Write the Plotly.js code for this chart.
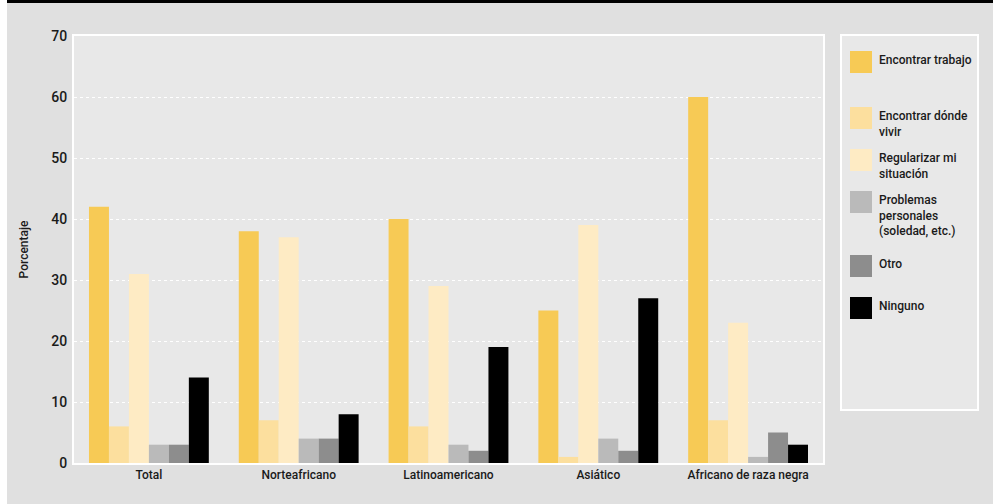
<!DOCTYPE html>
<html>
<head>
<meta charset="utf-8">
<script src="https://cdn.plot.ly/plotly-3.0.1.min.js"></script>
<style>html,body{margin:0;padding:0;background:#e0e0e0;}#chart{width:993px;height:504px;}</style>
</head>
<body>
<div id="chart"></div>
<script>
const categories = ["Total", "Norteafricano", "Latinoamericano", "Asiático", "Africano de raza negra"];
const seriesNames = ["Encontrar trabajo", "Encontrar dónde vivir", "Regularizar mi situación", "Problemas personales (soledad, etc.)", "Otro", "Ninguno"];
const legendLabels = ["Encontrar trabajo", "Encontrar dónde<br>vivir", "Regularizar mi<br>situación", "Problemas<br>personales<br>(soledad, etc.)", "Otro", "Ninguno"];
const encontrarTrabajo = [42, 38, 40, 25, 60];
const encontrarDondeVivir = [6, 7, 6, 1, 7];
const regularizar = [31, 37, 29, 39, 23];
const problemasPersonales = [3, 4, 3, 4, 1];
const otro = [3, 4, 2, 2, 5];
const ninguno = [14, 8, 19, 27, 3];
const seriesValues = [encontrarTrabajo, encontrarDondeVivir, regularizar, problemasPersonales, otro, ninguno];
const colors = ["#f7ca55", "#fcdf9e", "#feebc4", "#bababa", "#8d8d8d", "#000000"];
const yTicks = [0, 10, 20, 30, 40, 50, 60, 70];

const W = 993, H = 504;
const L = 74, R = 823, T = 36, B = 463;
const px = x => (x - L) / (R - L);
const py = y => (B - y) / (B - T);
const FONT = 'Roboto, "Liberation Sans", sans-serif';
const TXT = '#1a1a1a';

const traces = seriesNames.map((name, i) => ({
  type: 'bar',
  name: name,
  x: categories,
  y: seriesValues[i],
  marker: {color: colors[i], line: {width: 0}},
  showlegend: false,
  hoverinfo: 'x+y+name'
}));

const shapes = [
  {type: 'rect', xref: 'paper', yref: 'paper', x0: px(0), x1: px(7), y0: py(H), y1: py(0), fillcolor: '#ffffff', line: {width: 0}, layer: 'below'},
  {type: 'rect', xref: 'paper', yref: 'paper', x0: px(7), x1: px(W), y0: py(3), y1: py(0), fillcolor: '#000000', line: {width: 0}, layer: 'below'},
  {type: 'rect', xref: 'paper', yref: 'paper', x0: px(841), x1: px(978), y0: py(410), y1: py(35), fillcolor: '#e8e8e8', line: {color: '#ffffff', width: 2}, layer: 'below'}
];
const annotations = [];
const legendTops = [51, 107, 149, 191, 255, 297];
legendTops.forEach((top, i) => {
  shapes.push({type: 'rect', xref: 'paper', yref: 'paper', x0: px(850), x1: px(872), y0: py(top + 22), y1: py(top), fillcolor: colors[i], line: {width: 0}});
  annotations.push({xref: 'paper', yref: 'paper', x: px(877), y: py(top), xanchor: 'left', yanchor: 'top', align: 'left', showarrow: false, text: legendLabels[i], font: {family: FONT, size: 12, color: TXT, weight: 500}});
});

const layout = {
  width: W, height: H,
  margin: {l: L, r: W - R, t: T, b: H - B, pad: 0},
  paper_bgcolor: '#e0e0e0',
  plot_bgcolor: '#e8e8e8',
  font: {family: FONT, size: 12, color: TXT},
  barmode: 'group',
  bargap: 0.2,
  bargroupgap: 0,
  showlegend: false,
  xaxis: {
    type: 'category',
    showline: true, mirror: true, linecolor: '#ffffff', linewidth: 2,
    showgrid: false, ticks: '', tickfont: {family: FONT, size: 12, color: TXT, weight: 500},
    fixedrange: true
  },
  yaxis: {
    range: [0, 70], tickvals: yTicks, ticktext: yTicks.map(String),
    showline: true, mirror: true, linecolor: '#ffffff', linewidth: 2,
    showgrid: true, gridcolor: '#ffffff', griddash: '3px,3px', gridwidth: 1,
    zeroline: false, ticks: '', ticklabelstandoff: 2,
    tickfont: {family: FONT, size: 14, color: TXT, weight: 500},
    title: {text: 'Porcentaje', standoff: 20, font: {family: FONT, size: 12, color: TXT, weight: 500}},
    fixedrange: true
  },
  shapes: shapes,
  annotations: annotations
};

Plotly.newPlot('chart', traces, layout, {displayModeBar: false, staticPlot: true});
</script>
</body>
</html>
